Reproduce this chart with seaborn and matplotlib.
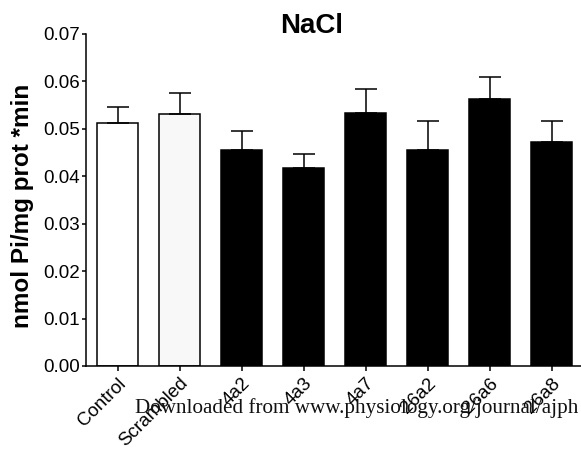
import numpy as np
import pandas as pd
import matplotlib
matplotlib.use("Agg")
import matplotlib.pyplot as plt
import seaborn as sns

groups = ["Control", "Scrambled", "4a2", "4a3", "4a7", "26a2", "26a6", "26a8"]
means = [0.0512, 0.0532, 0.0455, 0.0417, 0.0533, 0.0455, 0.0564, 0.0473]
sem = [0.0035, 0.0044, 0.0040, 0.0029, 0.0050, 0.0062, 0.0046, 0.0044]
fills = ["#ffffff", "#f8f8f8", "#000000", "#000000", "#000000", "#000000", "#000000", "#000000"]
y_ticks = [0.00, 0.01, 0.02, 0.03, 0.04, 0.05, 0.06, 0.07]

sns.set_theme(style="ticks")
plt.rcParams["font.family"] = ["Liberation Sans", "DejaVu Sans"]
plt.rcParams.update({"text.color": "black", "axes.labelcolor": "black",
                     "xtick.color": "black", "ytick.color": "black"})

df = pd.DataFrame({"group": groups, "mean": means})

fig = plt.figure(figsize=(5.81, 4.5), dpi=100)
ax = fig.add_axes([86 / 581, 1 - 366 / 450, 1 - 86 / 581, (366 - 34) / 450])

lw = 1.1
sns.barplot(data=df, x="group", y="mean", hue="group", palette=fills,
            order=groups, hue_order=groups, legend=False, width=0.66,
            edgecolor="black", linewidth=lw, ax=ax, errorbar=None, saturation=1)

ax.errorbar(np.arange(len(groups)), means,
            yerr=[np.zeros(len(sem)), sem], fmt="none", ecolor="black",
            elinewidth=lw, capsize=7.6, capthick=lw, zorder=1)

ax.set_ylim(0, 0.07)
ax.set_xlim(-0.51, 7.47)
ax.set_yticks(y_ticks)
ax.set_yticklabels([f"{t:.2f}" for t in y_ticks], fontsize=13.5)
ax.set_xticks(np.arange(len(groups)))
ax.set_xticklabels(groups, rotation=45, ha="right", rotation_mode="anchor", fontsize=13.5)
ax.tick_params(axis="y", direction="out", length=3, width=lw, color="black", pad=1.5)
ax.tick_params(axis="x", direction="out", length=3.8, width=lw, color="black", pad=2.5)

for side in ["top", "right"]:
    ax.spines[side].set_visible(False)
for side in ["left", "bottom"]:
    ax.spines[side].set_linewidth(lw)
    ax.spines[side].set_color("black")

ax.set_xlabel("")
ax.set_ylabel("nmol Pi/mg prot *min", fontsize=17.5, fontweight="bold")
ax.yaxis.set_label_coords(-0.105, 0.482)

fig.text(312 / 581, 1 - 33 / 450, "NaCl", fontsize=20, fontweight="bold",
         ha="center", va="baseline")

fig.text(135 / 581, 1 - 413 / 450, "Downloaded from www.physiology.org/journal/ajph",
         fontsize=15.2, family=["Liberation Serif"], color="#111111", va="baseline", ha="left")

fig.savefig("out.png", dpi=100)
